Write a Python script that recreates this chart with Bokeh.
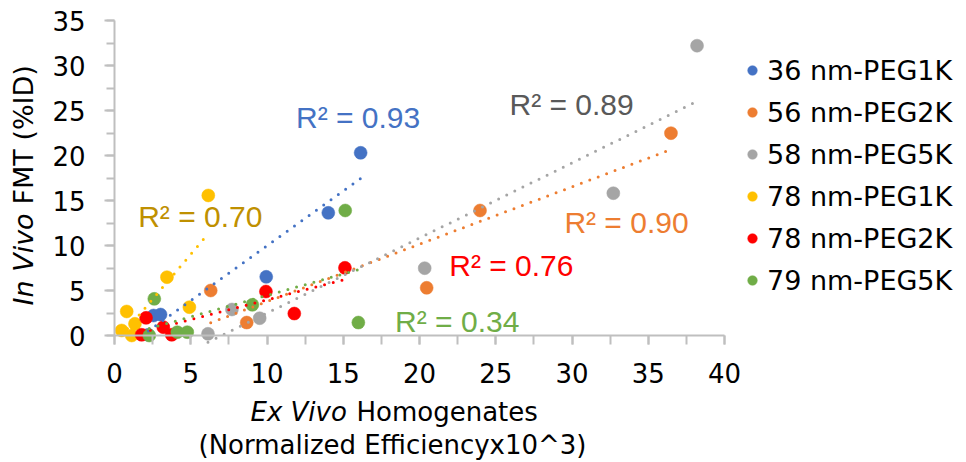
import numpy as np
from bokeh.plotting import figure
from bokeh.models import Range1d, SingleIntervalTicker, Legend, LegendItem, Label, LinearAxis
from bokeh.embed import file_html
from bokeh.resources import INLINE

# ---------------- data ----------------
series_names = ["36 nm-PEG1K", "56 nm-PEG2K", "58 nm-PEG5K",
                "78 nm-PEG1K", "78 nm-PEG2K", "79 nm-PEG5K"]
series_colors = ["#4472C4", "#ED7D31", "#A5A5A5", "#FFC000", "#FF0000", "#70AD47"]

blue_x = [2.22, 2.56, 3.02, 9.95, 14.02, 16.14]
blue_y = [0.08, 2.22, 2.33, 6.52, 13.63, 20.3]

orange_x = [6.31, 8.67, 20.47, 23.97, 36.49]
orange_y = [5.0, 1.44, 5.3, 13.89, 22.48]

gray_x = [6.13, 7.70, 9.52, 20.34, 32.71, 38.2]
gray_y = [0.19, 2.89, 1.92, 7.48, 15.81, 32.2]

yellow_x = [0.47, 0.8, 1.13, 1.34, 3.44, 4.91, 6.15]
yellow_y = [0.56, 2.67, 0.0, 1.3, 6.48, 3.15, 15.56]

red_x = [1.78, 2.07, 3.2, 3.75, 9.93, 11.79, 15.11]
red_y = [0.08, 1.96, 0.93, 0.08, 4.89, 2.44, 7.52]

green_x = [2.28, 2.61, 4.12, 4.77, 9.04, 15.13, 15.99]
green_y = [0.0, 4.07, 0.37, 0.37, 3.41, 13.89, 1.44]

r2_texts = ["R\u00b2 = 0.93", "R\u00b2 = 0.90", "R\u00b2 = 0.89",
            "R\u00b2 = 0.70", "R\u00b2 = 0.76", "R\u00b2 = 0.34"]
r2_colors = ["#4472C4", "#ED7D31", "#595959", "#BF9000", "#FF0000", "#70AD47"]

series_x = [blue_x, orange_x, gray_x, yellow_x, red_x, green_x]
series_y = [blue_y, orange_y, gray_y, yellow_y, red_y, green_y]

# ---------------- figure ----------------
FONT = "DejaVu Sans"
AXIS_GRAY = "#BFBFBF"
W, H = 966, 462
# plot area: x 0..40 spans px 114..724, y 0..35 spans px 335..20
PX0, PXS = 114.0, 15.25
PY0, PYS = 335.0, 9.0

p = figure(width=W, height=H,
           x_range=Range1d(-PX0 / PXS, (W - PX0) / PXS),
           y_range=Range1d((PY0 - H) / PYS, PY0 / PYS),
           x_axis_location=None, y_axis_location=None,
           output_backend="svg", toolbar_location=None, title=None,
           min_border=0, min_border_left=0, min_border_right=0,
           min_border_top=0, min_border_bottom=0)
p.outline_line_color = None
p.grid.visible = False
p.background_fill_color = "white"
p.border_fill_color = "white"

xa = LinearAxis(ticker=SingleIntervalTicker(interval=5, num_minor_ticks=2),
                fixed_location=0, bounds=(0, 40))
ya = LinearAxis(ticker=SingleIntervalTicker(interval=5, num_minor_ticks=2),
                fixed_location=0, bounds=(0, 35))
for ax in (xa, ya):
    ax.axis_line_color = AXIS_GRAY
    ax.axis_line_width = 2
    ax.major_tick_line_color = AXIS_GRAY
    ax.minor_tick_line_color = AXIS_GRAY
    ax.major_tick_line_width = 2
    ax.minor_tick_line_width = 2
    ax.major_tick_in = 0
    ax.minor_tick_in = 0
    ax.major_label_text_font = FONT
    ax.major_label_text_font_size = "26px"
    ax.major_label_text_color = "black"
xa.major_tick_out = 9
xa.minor_tick_out = 9
xa.major_label_standoff = 18
ya.major_tick_out = 10
ya.minor_tick_out = 8
ya.major_label_standoff = 19
p.add_layout(xa, "below")
p.add_layout(ya, "left")

# markers
renderers = []
for xs, ys, col in zip(series_x, series_y, series_colors):
    r = p.scatter(xs, ys, size=13, fill_color=col, line_color=col, line_width=0.5)
    renderers.append(r)

# linear trendlines (least squares on each series)
for xs, ys, col in zip(series_x, series_y, series_colors):
    coef = np.polyfit(xs, ys, 1)
    ends = [min(xs), max(xs)]
    p.line(ends, list(np.polyval(coef, ends)), line_color=col, line_width=3,
           line_dash="0 9", line_cap="round")

# R² labels
r2_x = [11.9, 29.5, 25.9, 1.55, 21.95, 18.4]
r2_y = [24.22, 12.59, 25.66, 13.19, 7.78, 1.59]
for t, c, x, y in zip(r2_texts, r2_colors, r2_x, r2_y):
    p.add_layout(Label(x=x, y=y, text=t, text_color=c, text_font="Liberation Sans",
                       text_font_size="30px", text_align="left",
                       text_baseline="alphabetic"))

# axis titles (mixed italic)
common = dict(text_font=FONT, text_font_size="26px", text_color="black",
              text_baseline="alphabetic", text_align="left")
p.add_layout(Label(x=(250 - PX0) / PXS, y=(PY0 - 411) / PYS, text="Ex Vivo",
                   text_font_style="italic", **common))
p.add_layout(Label(x=(356 - PX0) / PXS, y=(PY0 - 411) / PYS, text="Homogenates", **common))
p.add_layout(Label(x=(392 - PX0) / PXS, y=(PY0 - 444) / PYS,
                   text="(Normalized Efficiencyx10^3)",
                   text_font=FONT, text_font_size="26px", text_color="black",
                   text_baseline="alphabetic", text_align="center"))

ycommon = dict(text_font=FONT, text_font_size="27px", text_color="black",
               text_baseline="alphabetic", angle=np.pi / 2, text_align="left")
p.add_layout(Label(x=(23 - PX0) / PXS, y=(PY0 - 305) / PYS, text="In Vivo",
                   text_font_style="italic", **ycommon))
p.add_layout(Label(x=(23 - PX0) / PXS, y=(PY0 - 204) / PYS, text="FMT (%ID)", **ycommon))

# legend
legend = Legend(items=[LegendItem(label=n, renderers=[r]) for n, r in zip(series_names, renderers)],
                location=(740, 166), orientation="vertical", padding=0, margin=0,
                spacing=10, glyph_width=24, glyph_height=32, label_height=32,
                label_standoff=3, label_text_font=FONT, label_text_font_size="27px",
                label_text_color="black", border_line_color=None,
                background_fill_alpha=0)
p.add_layout(legend)

open("out.html", "w").write(file_html(p, INLINE))
